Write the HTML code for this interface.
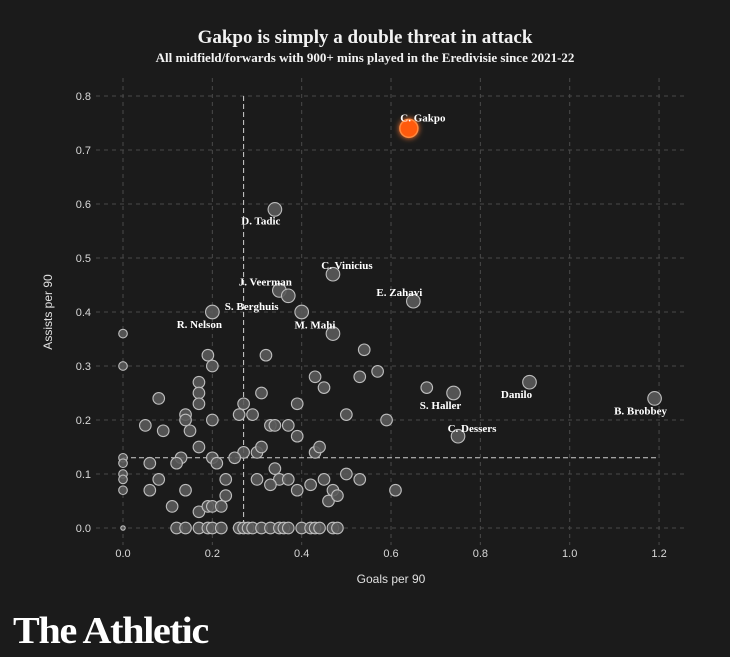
<!DOCTYPE html>
<html><head><meta charset="utf-8"><style>
html,body{margin:0;padding:0;background:#1b1b1b;}
svg{display:block;}
</style></head><body>
<svg id="chart" width="730" height="657" xmlns="http://www.w3.org/2000/svg">
<defs><filter id="glow" x="-100%" y="-100%" width="300%" height="300%"><feGaussianBlur stdDeviation="3" result="b"/><feMerge><feMergeNode in="b"/><feMergeNode in="SourceGraphic"/></feMerge></filter></defs>
<rect width="730" height="657" fill="#1b1b1b"/>
<text x="365" y="43" text-anchor="middle" fill="#f2f2f2" font-family="Liberation Serif, serif" font-weight="bold" font-size="19">Gakpo is simply a double threat in attack</text>
<text x="365" y="62" text-anchor="middle" fill="#f2f2f2" font-family="Liberation Serif, serif" font-weight="bold" font-size="13">All midfield/forwards with 900+ mins played in the Eredivisie since 2021-22</text>
<g id="grid"></g><g id="guides"></g><g id="pts"></g><g id="labels"></g>
<text x="391" y="583" text-anchor="middle" fill="#e0e0e0" font-family="Liberation Sans, sans-serif" font-size="12">Goals per 90</text>
<text transform="translate(52,312) rotate(-90)" text-anchor="middle" fill="#e0e0e0" font-family="Liberation Sans, sans-serif" font-size="12">Assists per 90</text>
<text x="13" y="643" fill="#ffffff" font-family="Liberation Serif, serif" font-weight="bold" font-size="38" letter-spacing="-1.2" textLength="195" lengthAdjust="spacingAndGlyphs">The Athletic</text>
</svg>
<script>
const xTicks=[0,0.2,0.4,0.6,0.8,1.0,1.2];
const xTickLabels=["0.0","0.2","0.4","0.6","0.8","1.0","1.2"];
const yTicks=[0,0.1,0.2,0.3,0.4,0.5,0.6,0.7,0.8];
const yTickLabels=["0.0","0.1","0.2","0.3","0.4","0.5","0.6","0.7","0.8"];
const goals=[0.34,0.47,0.35,0.37,0.40,0.20,0.47,0.65,0.74,0.91,1.19,0.75,
0,0,0.19,0.20,0.32,0.54,0.57,0.53,0.43,0.45,0.17,0.17,0.17,0.08,0.27,0.31,0.29,0.26,0.14,0.14,0.20,0.15,0.09,0.05,0.39,0.50,0.59,0.33,0.34,0.37,0.39,0.43,0.44,0.27,0.25,0.20,0.17,0.13,0.12,0.06,0,0,0.30,0.31,0,0,0,0,0.21,0.34,0.30,0.08,0.06,0.14,0.23,0.35,0.33,0.39,0.37,0.42,0.45,0.50,0.53,0.47,0.61,0.46,0.48,0.23,0.11,0.17,0.19,0.20,0.22,
0.12,0.14,0.17,0.19,0.20,0.22,0.26,0.27,0.28,0.29,0.31,0.33,0.35,0.36,0.37,0.40,0.42,0.43,0.44,0.47,0.48,0.68];
const assists=[0.59,0.47,0.44,0.43,0.40,0.40,0.36,0.42,0.25,0.27,0.24,0.17,
0.36,0.30,0.32,0.30,0.32,0.33,0.29,0.28,0.28,0.26,0.27,0.25,0.23,0.24,0.23,0.25,0.21,0.21,0.21,0.20,0.20,0.18,0.18,0.19,0.23,0.21,0.20,0.19,0.19,0.19,0.17,0.14,0.15,0.14,0.13,0.13,0.15,0.13,0.12,0.12,0.13,0.12,0.14,0.15,0.10,0.09,0.07,0,0.12,0.11,0.09,0.09,0.07,0.07,0.09,0.09,0.08,0.07,0.09,0.08,0.09,0.10,0.09,0.07,0.07,0.05,0.06,0.06,0.04,0.03,0.04,0.04,0.04,
0,0,0,0,0,0,0,0,0,0,0,0,0,0,0,0,0,0,0,0,0,0.26];
const labelNames=["D. Tadic","C. Vinicius","J. Veerman","","S. Berghuis","R. Nelson","M. Mahi","E. Zahavi","S. Haller","Danilo","B. Brobbey","C. Dessers"];
const labelDx=[-14,14,-14,0,-50,-13,-18,-14,-13,-13,-14,14];
const labelDy=[15,-5,-5,0,-2,16,-5,-5,16,16,16,-4];
const gakpo=[0.64,0.74];
const avgGoals=0.27, avgAssists=0.13;

const X0=123,XS=446.7,Y0=528,YS=540;
const sx=v=>X0+v*XS, sy=v=>Y0-v*YS;
const NS="http://www.w3.org/2000/svg";
function mk(tag,attrs,parent){const e=document.createElementNS(NS,tag);for(const k in attrs)e.setAttribute(k,attrs[k]);parent.appendChild(e);return e;}
const grid=document.getElementById('grid');
xTicks.forEach((t,i)=>{
 const l=mk('line',{x1:sx(t),x2:sx(t),y1:78,y2:545,stroke:'#4a4a4a','stroke-dasharray':'4 4'},grid);
 
 
 const tx=mk('text',{x:sx(t),y:557,'text-anchor':'middle',fill:'#d8d8d8','font-family':'Liberation Sans, sans-serif','font-size':'11'},grid);
 tx.textContent=xTickLabels[i];
 
 
});
yTicks.forEach((t,i)=>{
 const l=mk('line',{x1:96,x2:686,y1:sy(t),y2:sy(t),stroke:'#4a4a4a','stroke-dasharray':'4 4'},grid);
 
 
 const tx=mk('text',{x:91,y:sy(t)+4,'text-anchor':'end',fill:'#d8d8d8','font-family':'Liberation Sans, sans-serif','font-size':'11'},grid);
 tx.textContent=yTickLabels[i];
 
 
});
const guides=document.getElementById('guides');
const gv=mk('line',{x1:sx(avgGoals),x2:sx(avgGoals),y1:sy(0.8),y2:sy(0),stroke:'#cfcfcf','stroke-dasharray':'5 3','stroke-width':1},guides);


const gh=mk('line',{x1:sx(0),x2:sx(1.2),y1:sy(avgAssists),y2:sy(avgAssists),stroke:'#cfcfcf','stroke-dasharray':'5 3','stroke-width':1},guides);


const pts=document.getElementById('pts');
goals.forEach((g,i)=>{
 const a=assists[i];
 let r=5.8; if(g===0) r=(a===0?2.2:4.3); if(i<12) r=6.8;
 const c=mk('circle',{cx:sx(g),cy:sy(a),r:r,fill:'#5a5a5a','fill-opacity':0.9,stroke:'#bdbdbd','stroke-width':1.1},pts);
 
 
});
const gk=mk('circle',{cx:sx(gakpo[0]),cy:sy(gakpo[1]),r:9,fill:'#ff5a0a',stroke:'#ff8a40','stroke-width':1.5,filter:'url(#glow)'},pts);


const labels=document.getElementById('labels');
const gl=mk('text',{x:sx(gakpo[0])+14,y:sy(gakpo[1])-7,'text-anchor':'middle',fill:'#fff','font-family':'Liberation Serif, serif','font-weight':'bold','font-size':'11'},labels);
gl.textContent='C. Gakpo';


labelNames.forEach((n,i)=>{
 if(!n) return;
 const t=mk('text',{x:sx(goals[i])+labelDx[i],y:sy(assists[i])+labelDy[i],'text-anchor':'middle',fill:'#fff','font-family':'Liberation Serif, serif','font-weight':'bold','font-size':'11'},labels);
 t.textContent=n;
 
 
});
</script>
</body></html>
